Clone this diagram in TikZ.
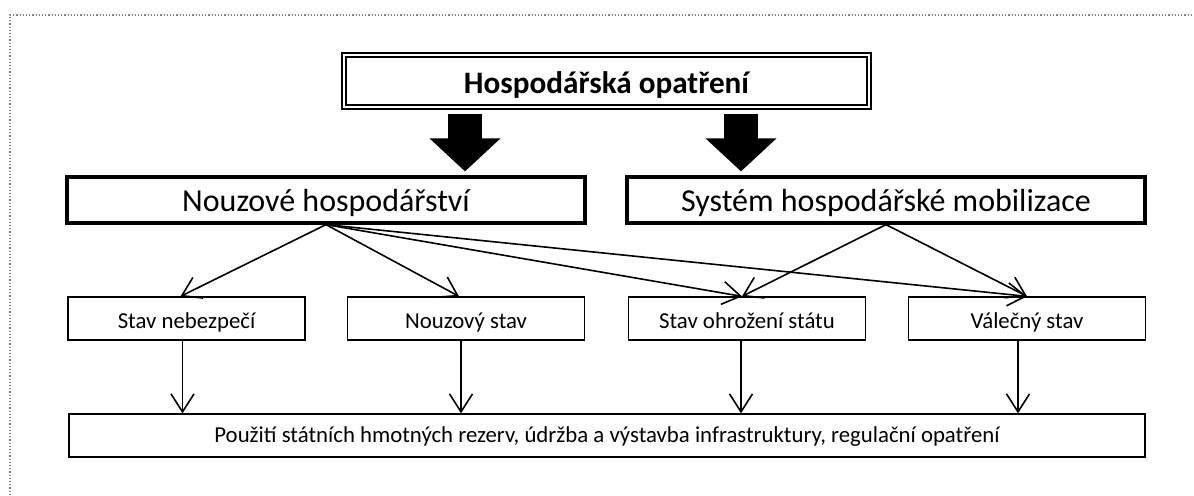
\documentclass[tikz,border=0pt]{standalone}
\usepackage{fontspec}
\setmainfont{Carlito}
\usetikzlibrary{arrows.meta}

\begin{document}
\begin{tikzpicture}[x=0.5pt,y=-0.5pt,
		topbox/.style={draw,double,line width=0.6pt,double distance=1.4pt,minimum width=262.5pt,minimum height=26pt,inner sep=0pt,text height=13pt,text depth=1pt,font=\fontsize{15.6}{18}\selectfont\bfseries},
		midbox/.style={draw,line width=1.6pt,minimum width=259pt,minimum height=23pt,inner sep=0pt,text height=12pt,text depth=1pt,font=\fontsize{16}{19}\selectfont},
		lowbox/.style={draw,line width=0.65pt,minimum width=118.5pt,minimum height=21.5pt,inner sep=0pt,text height=10pt,text depth=0.5pt,font=\fontsize{11.4}{13}\selectfont},
		link/.style={line width=0.8pt,-{Straight Barb[length=9pt,width=11.5pt]}},
		bigarrow/.style={line width=17pt,-{Triangle[length=16.5pt,width=34.5pt]}},
		frame/.style={densely dotted,line width=0.6pt,gray}]
		\useasboundingbox (0,0) rectangle (1194,495);
		\draw [frame] (10,495) -- (10,15) -- (1194,15);
		
		\node [topbox] (top) at (606.5,81) {Hospodářská opatření};
		\node [midbox] (nouz) at (326,200) {Nouzové hospodářství};
		\node [midbox] (sys) at (886,200) {Systém hospodářské mobilizace};
		
		\node [lowbox] (neb) at (186.5,318.5) {Stav nebezpečí};
		\node [lowbox] (nstav) at (466,318.5) {Nouzový stav};
		\node [lowbox] (ohr) at (747,318.5) {Stav ohrožení státu};
		\node [lowbox] (val) at (1027,318.5) {Válečný stav};
		
		\node [lowbox,minimum width=538pt,text height=8pt,text depth=1.5pt] (bot) at (607,435.5) {Použití státních hmotných rezerv, údržba a výstavba infrastruktury, regulační opatření};
		
		% block arrows
		\coordinate (la) at (465,0);
		\coordinate (ra) at (741,0);
		\draw [bigarrow] ([yshift=-3pt]top.south -| la) -- ([yshift=2pt]nouz.north -| la);
		\draw [bigarrow] ([yshift=-3pt]top.south -| ra) -- ([yshift=2pt]sys.north -| ra);
		
		\draw [link] (nouz.south) -- ([xshift=-3pt]neb.north);
		\draw [link] (nouz.south) -- ([xshift=-3.5pt]nstav.north);
		\draw [link] (nouz.south) -- ([xshift=-2.5pt]ohr.north);
		\draw [link] (nouz.south) -- (val.north);
		\draw [link] (sys.south) -- ([xshift=-2.5pt]ohr.north);
		\draw [link] (sys.south) -- (val.north);
		
		\draw [link] ([xshift=-2pt]neb.south) -- ([xshift=-2pt]bot.north -| neb.south);
		\draw [link] ([xshift=-2.5pt]nstav.south) -- ([xshift=-2.5pt]bot.north -| nstav.south);
		\draw [link] ([xshift=-3pt]ohr.south) -- ([xshift=-3pt]bot.north -| ohr.south);
		\draw [link] ([xshift=-4.5pt]val.south) -- ([xshift=-4.5pt]bot.north -| val.south);
	\end{tikzpicture}
\end{document}
